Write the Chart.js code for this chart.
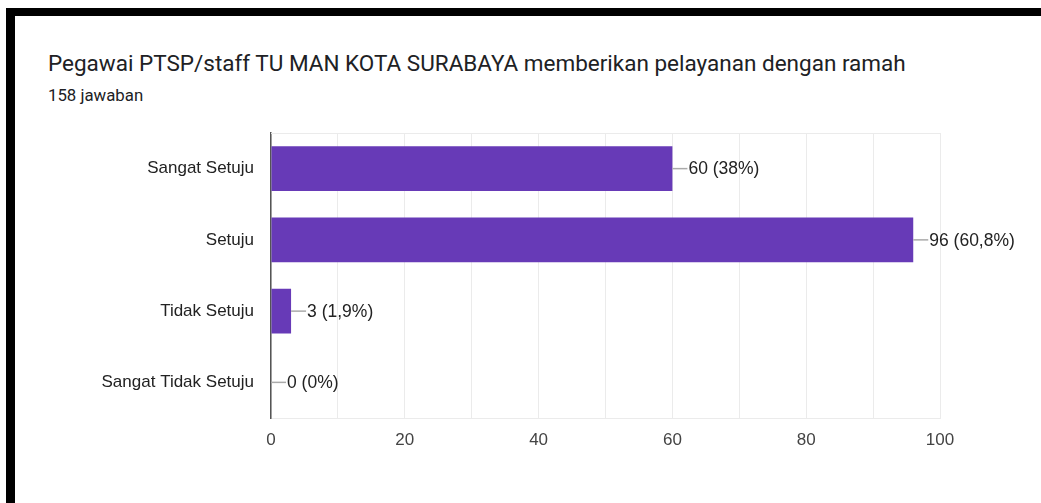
<!DOCTYPE html>
<html lang="id">
<head>
    <meta charset="UTF-8">
    <title>Pegawai PTSP/staff TU MAN KOTA SURABAYA</title>
    <script src="https://cdn.jsdelivr.net/npm/chart.js"></script>
    <style>
        body {
            margin: 0;
            padding: 0;
            background: #fff;
            width: 1041px;
            height: 503px;
            overflow: hidden;
            position: relative;
        }
        .frame-top {
            position: absolute;
            left: 6px; top: 8px;
            width: 1035px; height: 8px;
            background: #000;
        }
        .frame-left {
            position: absolute;
            left: 6px; top: 8px;
            width: 9px; height: 495px;
            background: #000;
        }
        .title {
            position: absolute;
            left: 48px; top: 50px;
            font-family: Roboto, Arial, sans-serif;
            font-size: 22.5px;
            color: #202124;
            white-space: nowrap;
        }
        .subtitle {
            position: absolute;
            left: 48px; top: 85px;
            font-family: Roboto, Arial, sans-serif;
            font-size: 16.8px;
            color: #202124;
        }
        .chart-box {
            position: absolute;
            left: 15px; top: 120px;
            width: 1026px; height: 383px;
        }
    </style>
</head>
<body>
    <div class="frame-top"></div>
    <div class="frame-left"></div>
    <div class="title">Pegawai PTSP/staff TU MAN KOTA SURABAYA memberikan pelayanan dengan ramah</div>
    <div class="subtitle">158 jawaban</div>
    <div class="chart-box">
        <canvas id="chart" width="1026" height="383"></canvas>
    </div>

    <script>
        // data
        const categories = ['Sangat Setuju', 'Setuju', 'Tidak Setuju', 'Sangat Tidak Setuju'];
        const counts = [60, 96, 3, 0];
        const percentLabels = ['38%', '60,8%', '1,9%', '0%'];
        const xTicks = [0, 20, 40, 60, 80, 100];

        const labelFont = '17.5px "Liberation Sans", Arial, sans-serif';

        // leader line + "n (p%)" next to each bar, plus top border of plot
        const barLabels = {
            id: 'barLabels',
            afterDatasetsDraw(chart) {
                const ctx = chart.ctx;
                const area = chart.chartArea;
                ctx.save();
                ctx.strokeStyle = '#ebebeb';
                ctx.lineWidth = 1;
                ctx.beginPath();
                ctx.moveTo(area.left, area.top + 0.5);
                ctx.lineTo(area.right, area.top + 0.5);
                ctx.stroke();

                const meta = chart.getDatasetMeta(0);
                meta.data.forEach((bar, i) => {
                    const x = bar.x;
                    const y = bar.y;
                    ctx.strokeStyle = '#aaa';
                    ctx.lineWidth = 1.5;
                    ctx.beginPath();
                    ctx.moveTo(x, y);
                    ctx.lineTo(x + 15, y);
                    ctx.stroke();
                    ctx.fillStyle = '#222';
                    ctx.font = labelFont;
                    ctx.textAlign = 'left';
                    ctx.textBaseline = 'middle';
                    ctx.fillText(counts[i] + ' (' + percentLabels[i] + ')', x + 16, y + 1);
                });
                ctx.restore();
            }
        };

        new Chart(document.getElementById('chart'), {
            type: 'bar',
            data: {
                labels: categories,
                datasets: [{
                    data: counts,
                    backgroundColor: '#673ab7',
                    borderWidth: 0,
                    categoryPercentage: 0.63,
                    barPercentage: 1.0
                }]
            },
            options: {
                indexAxis: 'y',
                responsive: false,
                animation: false,
                layout: { padding: { left: 0, top: 13, right: 101, bottom: 0 } },
                plugins: {
                    legend: { display: false },
                    tooltip: { enabled: false }
                },
                scales: {
                    x: {
                        min: 0,
                        max: 100,
                        afterFit(scale) {
                            scale.height = 85;
                            scale.paddingLeft = 0;
                            scale.paddingRight = 0;
                        },
                        afterBuildTicks(scale) {
                            const t = [];
                            for (let v = 0; v <= 100; v += 10) t.push({ value: v });
                            scale.ticks = t;
                        },
                        grid: { color: '#ebebeb', drawTicks: false },
                        border: { color: '#ebebeb' },
                        ticks: {
                            autoSkip: false,
                            maxRotation: 0,
                            padding: 12,
                            color: '#444',
                            font: { family: '"Liberation Sans", Arial, sans-serif', size: 17 },
                            callback: (v) => xTicks.includes(v) ? String(v) : ''
                        }
                    },
                    y: {
                        afterFit(scale) {
                            scale.width = 256;
                            scale.paddingTop = 0;
                            scale.paddingBottom = 0;
                        },
                        grid: { display: false, drawTicks: false },
                        border: { color: '#555', width: 1.5 },
                        ticks: {
                            padding: 17,
                            color: '#222',
                            font: { family: '"Liberation Sans", Arial, sans-serif', size: 17 }
                        }
                    }
                }
            },
            plugins: [barLabels]
        });
    </script>
</body>
</html>
